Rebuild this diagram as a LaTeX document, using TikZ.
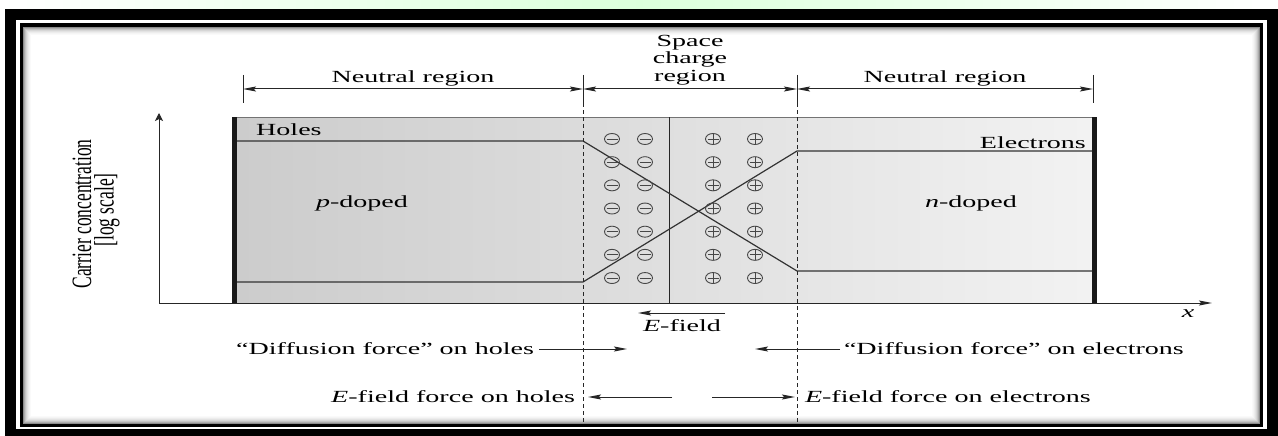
\documentclass[tikz,border=0pt]{standalone}
\usepackage{graphicx}
\usepackage{fontspec}
\setmainfont{Liberation Serif}[FakeStretch=1.65]
\newfontfamily\axisfont{Liberation Serif}
\usetikzlibrary{arrows.meta, positioning, calc}

\begin{document}
\begin{tikzpicture}[
    x=1pt, y=-1pt,
    lbl/.style={font=\fontsize{17}{17.5}\selectfont, inner sep=2pt},
    ylbl/.style={rotate=90, font=\fontsize{17.5}{17.5}\selectfont\axisfont, inner sep=1pt},
    thinline/.style={line width=1pt, draw=black!85},
    conc/.style={line width=1.2pt, draw=black!80},
    bound/.style={line width=0.9pt, draw=black!85, dash pattern=on 4pt off 3pt},
    harrow/.style={thinline, -{Stealth[length=13pt,width=5pt,inset=2pt]}},
    varrow/.style={thinline, -{Stealth[length=8pt,width=8pt,inset=2pt]}},
    dimarrow/.style={thinline, {Stealth[length=13pt,width=5pt,inset=2pt]}-{Stealth[length=13pt,width=5pt,inset=2pt]}},
    ion/.style={draw=black!72, line width=0.9pt}
]
\useasboundingbox (0,0) rectangle (1278,436);

% frame round the page
\shade[left color=white, right color=white, middle color=green!14] (0,0) rectangle (1278,436);
\fill[black] (5,9) rectangle (1278,436);
\fill[white] (16,20) rectangle (1267,429);
\fill[black] (20,23) rectangle (1263,427);
\fill[white] (23,27) rectangle (1260,424);
\foreach \k/\c in {0.5/45,1.5/32,2.5/23,3.5/16,4.5/11,5.5/7,6.5/4,7.5/2}
    \draw[black!\c, line width=1pt] (23+\k,27+\k) rectangle (1260-\k,424-\k);

% the junction
\shade[left color=black!20, right color=black!5] (237,117) rectangle (1093,303);
\draw[line width=0.8pt, black!55] (237,117) -- (1093,117);
\draw[line width=5pt, black!90] (234.5,117) -- (234.5,303);
\draw[line width=5pt, black!90] (1094,117) -- (1094,303);
\draw[thinline] (669,117) -- (669,303);

% axes
\coordinate (o) at (159,303);
\coordinate (ytip) at (159,113);
\coordinate (xtip) at (1212,303);
\draw[varrow] (o) -- (ytip);
\draw[harrow] (o) -- (xtip);

% carrier levels
\draw[conc] (237,141) -- (583,141) -- (797,271) -- (1092,271);
\draw[conc] (237,282) -- (583,282) -- (797,151) -- (1092,151);

% fixed charges
\foreach \k in {0,...,6}{
    \pgfmathsetmacro\yy{139+23.17*\k}
    \foreach \xx in {612,645}{
        \draw[ion] (\xx,\yy) ellipse [x radius=7.5, y radius=5.5];
        \draw[ion] (\xx-5.5,\yy) -- (\xx+5.5,\yy);
    }
    \foreach \xx in {713,755}{
        \draw[ion] (\xx,\yy) ellipse [x radius=7.5, y radius=5.5];
        \draw[ion] (\xx-5.5,\yy) -- (\xx+5.5,\yy);
        \draw[ion] (\xx,\yy-5.5) -- (\xx,\yy+5.5);
    }
}

% region widths
\foreach \n/\xx in {t1/243, t2/583, t3/797, t4/1093}{
    \coordinate (\n) at (\xx,89);
    \draw[thinline] (\xx,75) -- (\xx,103);
}
\draw[dimarrow] (t1) -- (t2);
\draw[dimarrow] (t2) -- (t3);
\draw[dimarrow] (t3) -- (t4);
\draw[bound] (583,103) -- (583,424);
\draw[bound] (797,103) -- (797,424);

\node[lbl] (nl1) at (413,78) {Neutral region};
\node[lbl] (nl2) at (945,78) {Neutral region};
\node[lbl, align=center] (scr) at (690,60) {Space\\charge\\region};
\node[lbl, anchor=west] (hl) at (254,130) {Holes};
\node[lbl, anchor=east] (el) at (1088,143) {Electrons};
\node[lbl] (pd) at (362,203) {\textit{p}-doped};
\node[lbl] (nd) at (971,203) {\textit{n}-doped};
\node[lbl] (xl) at (1188,314) {\textit{x}};
\node[ylbl] (yl1) at (82,214) {\scalebox{1}[1.6]{Carrier concentration}};
\node[ylbl] (yl2) at (107,210) {\scalebox{1}[1.6]{[log scale]}};

% field and forces
\coordinate (eft) at (725,313);
\coordinate (efh) at (638,313);
\draw[harrow] (eft) -- (efh);
\node[lbl] (efl) at (682,326) {\textit{E}-field};

\node[lbl, anchor=east, outer sep=3pt] (dh) at (539,349) {“Diffusion force” on holes};
\coordinate (dht) at (627,349);
\draw[harrow] (dh) -- (dht);
\node[lbl, anchor=west, outer sep=2pt] (de) at (840,349) {“Diffusion force” on electrons};
\coordinate (det) at (755,349);
\draw[harrow] (de) -- (det);

\node[lbl, anchor=east, outer sep=11pt] (fh) at (588,397) {\textit{E}-field force on holes};
\coordinate (fht) at (672,397);
\draw[harrow] (fht) -- (fh);
\node[lbl, anchor=west, outer sep=8pt] (fe) at (795,397) {\textit{E}-field force on electrons};
\coordinate (fet) at (712,397);
\draw[harrow] (fet) -- (fe);
\end{tikzpicture}
\end{document}
